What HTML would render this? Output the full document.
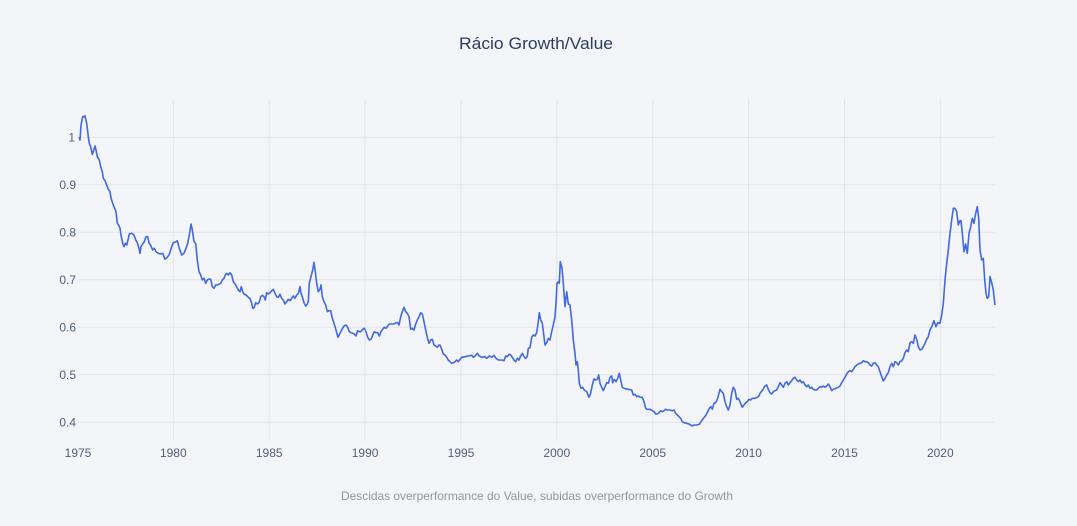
<!DOCTYPE html>
<html>
<head>
<meta charset="utf-8">
<style>
html,body{margin:0;padding:0;background:#f4f5f9;}
svg{display:block;}
text{font-family:"Liberation Sans",Arial,sans-serif;}
</style>
</head>
<body>
<svg width="1077" height="526" viewBox="0 0 1077 526" xmlns="http://www.w3.org/2000/svg">
<rect x="0" y="0" width="1077" height="526" fill="#f4f5f9"/>
<!-- horizontal gridlines -->
<g stroke="#e1e4eb" stroke-width="1">
<line x1="78" y1="137.3" x2="995" y2="137.3"/>
<line x1="78" y1="184.8" x2="995" y2="184.8"/>
<line x1="78" y1="232.3" x2="995" y2="232.3"/>
<line x1="78" y1="279.8" x2="995" y2="279.8"/>
<line x1="78" y1="327.3" x2="995" y2="327.3"/>
<line x1="78" y1="374.8" x2="995" y2="374.8"/>
<line x1="78" y1="422.3" x2="995" y2="422.3"/>
<!-- vertical gridlines -->
<line x1="173.3" y1="99" x2="173.3" y2="441"/>
<line x1="269.2" y1="99" x2="269.2" y2="441"/>
<line x1="365.1" y1="99" x2="365.1" y2="441"/>
<line x1="461.0" y1="99" x2="461.0" y2="441"/>
<line x1="556.8" y1="99" x2="556.8" y2="441"/>
<line x1="652.7" y1="99" x2="652.7" y2="441"/>
<line x1="748.6" y1="99" x2="748.6" y2="441"/>
<line x1="844.5" y1="99" x2="844.5" y2="441"/>
<line x1="940.3" y1="99" x2="940.3" y2="441"/>
</g>
<!-- y tick labels -->
<g font-size="12" fill="#506079" text-anchor="end">
<text x="75" y="141.5">1</text>
<text x="76" y="189">0.9</text>
<text x="76" y="236.5">0.8</text>
<text x="76" y="284">0.7</text>
<text x="76" y="331.5">0.6</text>
<text x="76" y="379">0.5</text>
<text x="76" y="426.5">0.4</text>
</g>
<!-- x tick labels -->
<g font-size="12" fill="#506079" text-anchor="middle">
<text x="78" y="457">1975</text>
<text x="173.3" y="457">1980</text>
<text x="269.2" y="457">1985</text>
<text x="365.1" y="457">1990</text>
<text x="461.0" y="457">1995</text>
<text x="556.8" y="457">2000</text>
<text x="652.7" y="457">2005</text>
<text x="748.6" y="457">2010</text>
<text x="844.5" y="457">2015</text>
<text x="940.3" y="457">2020</text>
</g>
<!-- title -->
<text x="536" y="49" font-size="17" fill="#2a3f5f" text-anchor="middle" textLength="154" lengthAdjust="spacingAndGlyphs">Rácio Growth/Value</text>
<!-- annotation -->
<text x="537" y="500" font-size="12" fill="#959595" text-anchor="middle" textLength="392" lengthAdjust="spacingAndGlyphs">Descidas overperformance do Value, subidas overperformance do Growth</text>
<!-- series -->
<polyline fill="none" stroke="#4169e1" stroke-width="1.6" stroke-linejoin="round" points="
79,137.3 80,140 81,125 82.7,116.7 85,116 86.7,123.3 88.3,136.7 89.3,143.3 90.7,146.7 92.3,154.3 93.3,151.7 95,146 96,150 97.3,156.7 99.3,160 100.7,166.7 102.3,171.7 103.3,178.3 105,180.7 106.7,185 108.3,189.3 110,191.7 111,198.3 112.7,203.3 114,206.7 116,211.7 117.3,223.3 118.7,225.3 120,228.3 121.3,236.7 122.7,243.3 124,246.7 125.3,243.3 126.7,245 128,240 129.3,234 131.7,233.3 134,235 135.7,240 137.3,242.7 139,248.3 140,253.3 141,246.7 142.7,244 144.3,241.7 146,236.7 147.7,236.7 149,242.7 151,246 152.7,250 154.3,248.3 156,251.7 158.3,253.3 160.7,254 162.7,253.3 165,259.3 167.3,257.3 169.3,254.3 171.7,246.7 173.3,242.7 176,241.7 177.3,240.7 179.3,248.3 181.7,255 184,253.3 186,248.3 187.7,243.3 189.3,235 191,224 192.3,230 194,241.7 195.7,243.3 197.3,260 199,271.7 200.7,275 202.3,280 204,278.3 205.7,283.3 207.3,280 209,279 210.7,279.3 212.3,286.7 214,288.3 215.7,285 217.3,285 219,284.3 220.7,283.3 222.3,280 224,278.3 225.3,275 226.7,273.3 228.3,275 230,272.7 231.7,275 233.3,281.7 235,284 236.7,286.7 238.3,290 240,291.7 241.3,286.7 242.7,291.7 244,294 246,295 247.7,296.7 249.3,298.3
250,298.3 251.7,303.3 252.7,308.3 254.3,307.3 255.7,302.7 257.3,304 259,302.7 260.7,296.7 262.3,295.3 264,296.7 265.3,300 266.7,292.7 268.3,294 270,292.7 271.7,290.7 273.3,289.3 275,293.3 276.7,296.7 278.3,297.3 280,294.3 281.7,298.3 283.3,300 285,304 286.7,301.7 288.3,299.3 290,300.7 291.7,298.3 293.3,296 295,298.3 296.7,295 298.3,293.3 300,286.7 301,293.3 302.3,296.7 304,302.7 305.7,306 307.3,304 308.3,301.7 309.3,283.3 311,276.7 312.7,270 314,262.3 315.3,271.7 316.7,283.3 318.3,291.7 320,289.3 321,285 322.3,296.7 324,301.7 325.7,305 327.3,311.7 329,310.7 330.7,310.7 332.3,318.3 334,323.3 336,330 338,337.3 340,333.3 342,329.3 344,326 346,325 347.7,327.3 349.3,331.7 351,332.7 352.7,333.3 354.3,334 356,336 357.7,330.7 359.3,331.7 361,331.7 362.7,329.3 364.3,328.3 366,331.7 367.7,337.3 369.3,340 371,339.3 372.7,335.3 374.3,331.7 376,332.7 377.7,332.7 379.3,336 381,331.7 382.7,329.3 384.3,327.3 386,328.3 387.7,326 389.3,324 391.7,324 394,324 396,322.7 397.7,322.7 399,325 400.7,316.7 402.3,311.7 404,307.3 405.7,311.7 407.3,313.3 409,316.7 410.7,329.3 412.3,328.3 414,330 415.7,324 417.3,320 419,316.7 420.7,312.7 422.3,314 424,321.7 425.7,330 427.3,337.3 429,343.3 430.7,340 432.3,339.3 434,345 435.7,346 437.3,347.3 439,345
440,345 441.7,349.3 443.3,354 445,355 446.7,357.3 448.3,360 450,361.7 451.7,363.3 453.3,362.7 455,361.7 456.7,360 458.3,361.7 460,359.3 461.7,357.3 465,356.7 468.3,356 471.7,355.3 473.3,357.3 475,356 477.3,353.3 479.3,356 481.7,357.3 485,356.7 486.7,358.3 489.3,356 491.7,357.3 494,355.3 496,358.3 498.3,360 501.7,360 504,360.7 505.7,356 507.3,356.7 509,354.3 510.7,355 512.3,357.3 514,360 515.7,361.7 517.3,358.3 519,360 520.7,356 522.3,353.3 524,356.7 525.7,358.3 527.3,356.7 528.3,348.3 530,347.7 531.7,337.3 533.3,335 535,336 536.7,332.7 538.3,321.7 539.3,312.7 540.7,320 542.3,323.3 544,336.7 545,345 546.7,342.7 548.3,338.3 550,340 551.7,331.7 553.3,325 555,316.7 556,303.3 557,283.3 558.3,281.7 559.3,283.3 560.3,261.7 562,268.3 563.3,283.3 565,306.7 566.7,291.7 568.3,304 570,305 571.7,320
573.3,340 575,353.3 576,365 577.3,361.7 578.3,370 579.3,383.3 581,388.3 582.7,387.3 584.3,390 586.7,391.7 589,397.3 590.7,393.3 592.3,385 594,379 595.7,380 597.3,379.3 598.7,375 600,383.3 601.7,387.3 603.3,390.7 605,386.7 606.7,382.7 608.3,383.3 610,377.3 611.7,376 612.7,382.7 614.3,379.3 616,381.7 617.7,378.3 619.3,373.3 620.7,380 622.3,387.3 625,388.7 628.3,389.3 631.7,390 633.3,395 635,394.3 636.7,396.7 638.3,396 640,397.3 642.3,397.3 644,401.7 645.7,408.3 647.3,409.3 650,409.3 652.3,410.7 654,411.7 655.7,414 657.3,414 659,412.7 660.7,410.7 662.3,411.7 664,410.7 665.7,409.3 667.3,410 670,410 672.3,410.7 674,410 675.7,413.3 677.3,415 679,416.7 680.7,418.3 682.3,421.7 684,422.7 686.7,423.3 689,424 690.7,425 692,426 694,425 696.7,425 699.3,424.3 701,421.7 702.7,419.3 704.3,417.3 706,415 707.7,411.7 709.3,408.3 711,406.7 712.3,409.3 714,403.3 715.7,402.7 717.3,399.3 719,393.3 720,389.3 721.7,391.7 723.3,393.3 725,401.7 726.7,406.7 728.3,410 730,405 731.7,393.3 733.3,387.3 735,390 736.7,399.3 738.3,398.3 740,401.7 742.3,407.3 744,405 745.7,402.7 747.3,401.7 749,399.3 750.7,400 752.3,398.3 755,398.3 757.3,397.3 759,396
760,393.3 762.7,390 765,386 766.7,385 768.3,389.3 770,392.7 771.7,394 773.3,391.7 775,390.7 776.7,390 778.3,386.7 780,382.7 781.7,385 783.3,387.3 785,383.3 786.7,381.7 788.3,385 790,382.7 791.7,380.7 793.3,378.3 795,377.3 796.7,380 798.3,381.7 800,380 801.7,382.7 803.3,381.7 805,385 806.7,386.7 808.3,385 810,388.3 811.7,387.3 813.3,389.3 815,390 816.7,390 818.3,388.3 820,386.7 821.7,387.3 823.3,386 825,387.3 826.7,386 828.3,384 830,386.7 831.7,390.7 833.3,389.3 836,388.3 838.3,387.3 840,386 841.7,382.7 843.3,380 845,377.3 846.7,374 848.3,371.7 850,370.7 851.7,371.7 853.3,369.3 855,366.7 856.7,365 858.3,364 860,363.3 861.7,362.7 863.3,360.7 865,361.7 866.7,361.7 868.3,362.7 870,365 871.7,366 873.3,363.3 875,362.7 876.7,365 878.3,366.7 880,371.7 881.7,376.7 883.3,381 885,378.3 886.7,375 888.3,372.7 890,366.7 891.7,363.3 893.3,366.7 895,361.7 896.7,362.7 898.3,365 900,361.7 901.7,360.7 903.3,358.3 905,352.7 906.7,350 908.3,351.7 910,342.7 911.7,341.7 913.3,343.3 915,335 916.7,339.3 918.3,346.7 920,350 921.7,349.3 923.3,346.7 925,343.3 926.7,339.3 928.3,336.7
930,330 931.7,326.7 934,320.7 936,326.7 937.7,322.7 940,323.3 941.7,315 943.3,303.3 945,280 946.7,263.3 948.3,250 950,233.3 951.7,220 953.3,208.3 955,208.3 956.7,211.7 958.3,225 960,220.7 961,220.7 962.3,233.3 964,251.7 965.7,244 967.3,253.3 969,233.3 970.7,226.7 972.3,218.3 974,223.3 975.7,213.3 977.3,206.7 978.7,218.3 980,250 981.7,260 983.3,258.3 984.7,280 986,293.3 987.3,298.3 988.7,296.7 990,276.7 991.7,282.7 993.3,290 995,305"/>
</svg>
</body>
</html>
